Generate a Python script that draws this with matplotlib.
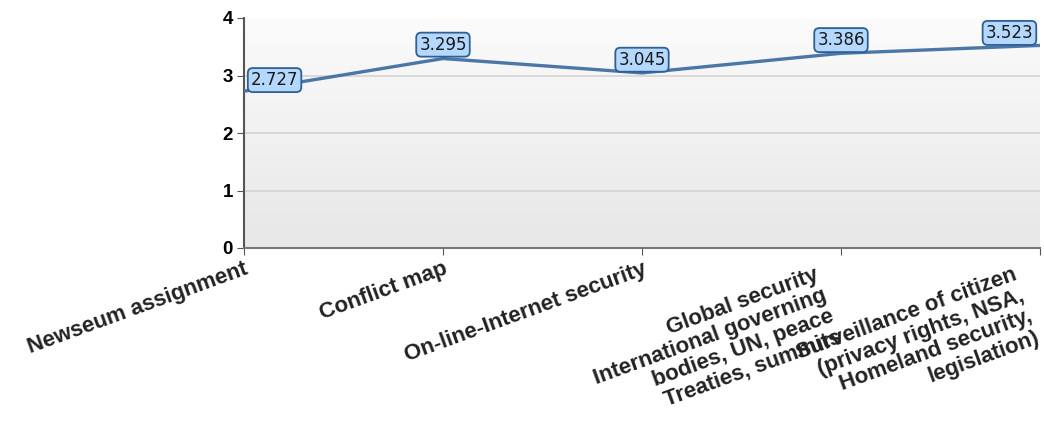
import numpy as np
import matplotlib
matplotlib.use("Agg")
import matplotlib.pyplot as plt

categories = [
    "Newseum assignment",
    "Conflict map",
    "On-line-Internet security",
    "Global security\nInternational governing\nbodies, UN, peace\nTreaties, summits",
    "Surveillance of citizen\n(privacy rights, NSA,\nHomeland security,\nlegislation)",
]
values = [2.727, 3.295, 3.045, 3.386, 3.523]
y_ticks = [0, 1, 2, 3, 4]

plt.rcParams["font.family"] = ["Liberation Sans", "DejaVu Sans"]

fig = plt.figure(figsize=(10.44, 4.25), dpi=100)
ax = fig.add_axes([244 / 1044, 1 - 248 / 425, (1040 - 244) / 1044, (248 - 18) / 425])

x = np.arange(len(categories))
n = len(categories) - 1

# vertical gradient background: near-white at top, light grey at bottom
grad = np.linspace(0, 1, 256).reshape(-1, 1)
top = np.array([0.985, 0.985, 0.985])
bot = np.array([0.905, 0.905, 0.905])
img = top + (bot - top) * grad
img = np.repeat(img[:, None, :], 2, axis=1)
ax.imshow(img, extent=[0, n, 0, 4], aspect="auto", origin="upper", zorder=0)
ax.set_xlim(0, n)
ax.set_ylim(0, 4)

for t in y_ticks[1:-1]:
    ax.axhline(t, color="#d4d4d4", lw=1.2, zorder=1)

ax.plot(x, values, color="#4a76a8", lw=2.4, zorder=3, solid_capstyle="round")

# value labels in rounded boxes
offsets = [(22, 8), (0, 10), (0, 9.5), (0, 9.5), (-22, 9)]
for xi, v, off in zip(x, values, offsets):
    ax.annotate(f"{v:.3f}", (xi, v), xytext=off, textcoords="offset points",
                ha="center", va="center", fontsize=12, color="#1a1a1a",
                family=["DejaVu Sans"], zorder=5, annotation_clip=False,
                bbox=dict(boxstyle="round,pad=0.18,rounding_size=0.3",
                          fc="#b4d8ff", ec="#2f5f93", lw=1.3))

ax.set_yticks(y_ticks)
ax.set_yticklabels([str(t) for t in y_ticks], fontsize=13.5, fontweight="bold")
ax.set_xticks(x)
ax.set_xticklabels([])

# rotated category labels; the wrapped ones sit a little left of and below their tick
label_off_pt = [(0, -7.5), (0, -7.5), (0, -7.5), (-19, -12), (-20, -12)]
for xi, text, (dx, dy) in zip(x, categories, label_off_pt):
    ax.annotate(text, (xi, 0), xycoords=ax.get_xaxis_transform(),
                xytext=(dx, dy), textcoords="offset points",
                ha="right", va="top", rotation=20, rotation_mode="anchor",
                fontsize=16, fontweight="bold", color="#222222",
                multialignment="right", linespacing=1.07,
                annotation_clip=False)

ax.tick_params(axis="x", length=5, color="#555555", pad=5)
ax.tick_params(axis="y", length=5, color="#555555", pad=3)

for s in ["top", "right"]:
    ax.spines[s].set_visible(False)
ax.spines["left"].set_color("#555555")
ax.spines["left"].set_linewidth(1.5)
ax.spines["bottom"].set_color("#777777")
ax.spines["bottom"].set_linewidth(1.5)

fig.savefig("out.png", dpi=100)
